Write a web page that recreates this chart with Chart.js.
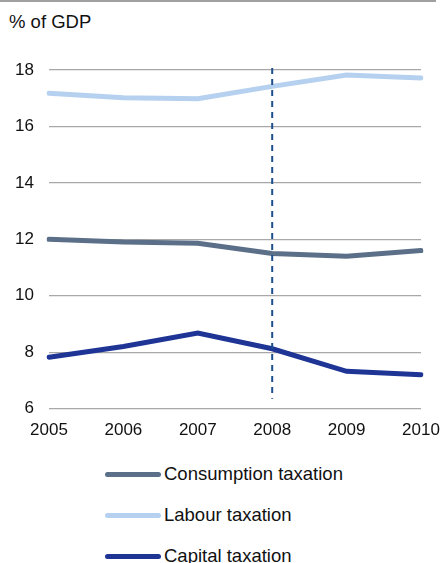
<!DOCTYPE html>
<html lang="en">
<head>
    <meta charset="UTF-8">
    <title>Taxation, % of GDP</title>
    <script src="https://cdn.jsdelivr.net/npm/chart.js"></script>
    <style>
        body {
            margin: 0;
            width: 444px;
            height: 563px;
            overflow: hidden;
            background: #ffffff;
            font-family: 'Liberation Sans', Arial, sans-serif;
            color: #111;
            position: relative;
        }
        #topline {
            position: absolute;
            left: 0;
            top: 0;
            width: 436px;
            border-top: 2px solid #a0a0a0;
        }
        #unit {
            position: absolute;
            left: 9px;
            top: 11px;
            font-size: 18.5px;
        }
        #wrap {
            position: absolute;
            left: 0;
            top: 0;
            width: 444px;
            height: 445px;
        }
        #legend {
            position: absolute;
            left: 105px;
            top: 462px;
        }
        .item {
            display: flex;
            align-items: center;
            height: 24px;
            margin-bottom: 17px;
            font-size: 18.5px;
        }
        .item span.swatch {
            display: inline-block;
            width: 56px;
            height: 5px;
            border-radius: 3px;
            margin-right: 3px;
        }
    </style>
</head>
<body>
    <div id="topline"></div>
    <div id="unit">% of GDP</div>
    <div id="wrap"><canvas id="chart"></canvas></div>
    <div id="legend"></div>

    <script>
        const years = ["2005", "2006", "2007", "2008", "2009", "2010"];
        const consumption = [12.0, 11.9, 11.86, 11.5, 11.4, 11.6];
        const labour = [17.18, 17.02, 16.98, 17.42, 17.82, 17.72];
        const capital = [7.82, 8.2, 8.68, 8.12, 7.32, 7.2];
        const yTicks = [6, 8, 10, 12, 14, 16, 18];
        const markerYear = "2008";

        const seriesNames = ["Consumption taxation", "Labour taxation", "Capital taxation"];
        const seriesColors = ["#5b7088", "#b5d1ef", "#1f3596"];

        // dashed vertical marker at 2008
        const markerLine = {
            id: "markerLine",
            afterDatasetsDraw(chart) {
                const x = chart.scales.x.getPixelForValue(years.indexOf(markerYear));
                const y = chart.scales.y;
                const ctx = chart.ctx;
                ctx.save();
                ctx.strokeStyle = "#1d4f8c";
                ctx.lineWidth = 2;
                ctx.setLineDash([6, 5]);
                ctx.beginPath();
                ctx.moveTo(x, y.getPixelForValue(18.07));
                ctx.lineTo(x, y.getPixelForValue(6.35));
                ctx.stroke();
                ctx.restore();
            }
        };

        const datasets = [consumption, labour, capital].map((vals, i) => ({
            label: seriesNames[i],
            data: vals,
            borderColor: seriesColors[i],
            backgroundColor: seriesColors[i],
            borderWidth: 5,
            pointRadius: 0,
            tension: 0,
            borderCapStyle: "round"
        }));

        new Chart(document.getElementById("chart"), {
            type: "line",
            data: { labels: years, datasets: datasets },
            options: {
                responsive: true,
                maintainAspectRatio: false,
                animation: false,
                layout: { padding: { top: 70, right: 23, left: 0, bottom: 0 } },
                plugins: { legend: { display: false }, tooltip: { enabled: false } },
                scales: {
                    x: {
                        grid: { display: false },
                        border: { display: false },
                        ticks: { color: "#111", font: { size: 17, family: "'Liberation Sans', Arial" }, padding: 4, maxRotation: 0 }
                    },
                    y: {
                        min: 6,
                        max: 18,
                        afterFit(scale) { scale.width = 49; },
                        afterBuildTicks(scale) { scale.ticks = yTicks.map(v => ({ value: v })); },
                        grid: { color: "#a8a8a8", lineWidth: 1.3, drawTicks: false },
                        border: { display: false },
                        ticks: { color: "#111", font: { size: 17, family: "'Liberation Sans', Arial" }, padding: 15 }
                    }
                }
            },
            plugins: [markerLine]
        });

        // legend, one item per row
        const legend = document.getElementById("legend");
        seriesNames.forEach((name, i) => {
            const item = document.createElement("div");
            item.className = "item";
            item.innerHTML = `<span class="swatch" style="background:${seriesColors[i]}"></span>${name}`;
            legend.appendChild(item);
        });
    </script>
</body>
</html>
